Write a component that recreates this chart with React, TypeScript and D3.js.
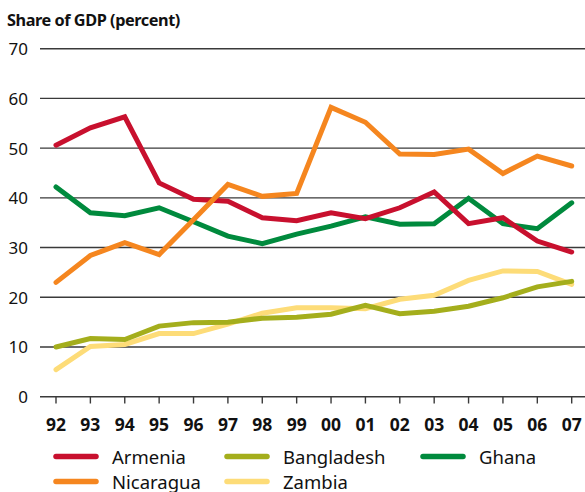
import React from "react";
import * as d3 from "d3";

const years = ["92","93","94","95","96","97","98","99","00","01","02","03","04","05","06","07"];
const yTicks = [0, 10, 20, 30, 40, 50, 60, 70];

const armenia = [50.6, 54.1, 56.3, 43.0, 39.7, 39.3, 36.0, 35.4, 37.0, 35.8, 38.0, 41.2, 34.8, 36.0, 31.3, 29.1];
const nicaragua = [23.0, 28.4, 31.0, 28.6, 35.6, 42.7, 40.3, 40.9, 58.2, 55.2, 48.8, 48.7, 49.8, 44.9, 48.4, 46.4];
const ghana = [42.2, 37.0, 36.4, 38.0, 35.2, 32.3, 30.8, 32.7, 34.3, 36.2, 34.7, 34.8, 39.9, 34.8, 33.8, 39.0];
const bangladesh = [10.0, 11.7, 11.5, 14.2, 14.9, 15.0, 15.8, 16.0, 16.6, 18.4, 16.7, 17.2, 18.2, 19.9, 22.1, 23.2];
const zambia = [5.45, 10.1, 10.5, 12.7, 12.7, 14.6, 16.8, 17.9, 17.9, 17.7, 19.6, 20.4, 23.4, 25.3, 25.2, 22.6];

const seriesNames = ["Zambia", "Bangladesh", "Ghana", "Armenia", "Nicaragua"];
const seriesValues = [zambia, bangladesh, ghana, armenia, nicaragua];
const seriesColors = ["#fddc78", "#a4ae1c", "#008a3d", "#c8102e", "#f5861f"];

const legendNames = ["Armenia", "Bangladesh", "Ghana", "Nicaragua", "Zambia"];
const legendColors = ["#c8102e", "#a4ae1c", "#008a3d", "#f5861f", "#fddc78"];

const W = 585;
const H = 492;
const FONT = "'Noto Sans', 'Open Sans', sans-serif";

export default function App() {
  const x = d3.scalePoint<string>().domain(years).range([56, 571.7]);
  const y = d3.scaleLinear().domain([0, 70]).range([396.7, 48.7]);
  const line = d3
    .line<number>()
    .x((_, i) => x(years[i]) as number)
    .y((d) => y(d));

  const legendX = [56, 227, 423];
  const legendY = [456.5, 481.5];

  return (
    <svg
      width={W}
      height={H}
      style={{ position: "absolute", left: 0, top: 0, display: "block", background: "#fff" }}
      fontFamily={FONT}
    >
      <text x={7} y={26} fontSize={16.3} fontWeight={700} letterSpacing={-0.45} fill="#111">
        Share of GDP (percent)
      </text>
      {yTicks.map((t) => (
        <g key={t}>
          <line x1={40} x2={585} y1={y(t)} y2={y(t)} stroke="#3a3a3a" strokeWidth={1.4} />
          <text x={28} y={y(t)} fontSize={17} textAnchor="end" dominantBaseline="central" fill="#111">
            {t}
          </text>
        </g>
      ))}
      {years.map((yr) => (
        <g key={yr}>
          <line x1={x(yr)} x2={x(yr)} y1={y(0)} y2={403.5} stroke="#3a3a3a" strokeWidth={1.4} />
          <text x={x(yr)} y={423.5} fontSize={17.5} fontWeight={700} textAnchor="middle" dominantBaseline="central" fill="#111">
            {yr}
          </text>
        </g>
      ))}
      {seriesValues.map((vals, i) => (
        <path
          key={seriesNames[i]}
          d={line(vals) || ""}
          fill="none"
          stroke={seriesColors[i]}
          strokeWidth={5}
          strokeLinecap="round"
          strokeLinejoin="miter"
        />
      ))}
      {legendNames.map((name, i) => {
        const col = i % 3;
        const row = Math.floor(i / 3);
        const lx = legendX[col];
        const ly = legendY[row];
        return (
          <g key={name}>
            <line x1={lx} x2={lx + 40} y1={ly} y2={ly} stroke={legendColors[i]} strokeWidth={5.5} strokeLinecap="round" />
            <text x={lx + 56} y={ly} fontSize={18.5} dominantBaseline="central" fill="#111">
              {name}
            </text>
          </g>
        );
      })}
    </svg>
  );
}
